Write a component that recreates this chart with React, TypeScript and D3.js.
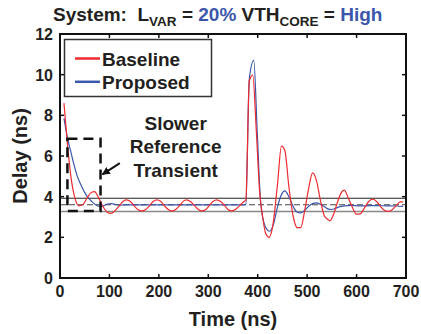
import React, { useEffect, useRef } from 'react';
import * as d3 from 'd3';

// time (ns), delay (ns)
const baselineT = [8, 15, 22, 30, 38, 46, 55, 64, 70, 77, 86, 95, 103, 111, 120, 128, 135, 143, 150, 158, 165, 173, 181, 189, 196, 204, 211, 219, 226, 234, 242, 249, 256, 264, 272, 280, 287, 295, 302, 310, 317, 325, 333, 340, 347, 355, 363, 370, 376, 383, 390, 397, 404, 410, 416, 423, 430, 440, 448, 455, 463, 472, 480, 487, 495, 503, 511, 519, 527, 535, 541, 546, 553, 561, 568, 575, 583, 591, 600, 607, 616, 624, 633, 641, 649, 657, 664, 672, 680, 688, 694];
const baselineV = [8.6, 6.6, 5.0, 3.95, 3.55, 3.6, 3.95, 4.22, 4.25, 4.0, 3.55, 3.25, 3.18, 3.3, 3.55, 3.78, 3.84, 3.75, 3.55, 3.36, 3.3, 3.36, 3.55, 3.77, 3.84, 3.76, 3.56, 3.37, 3.3, 3.37, 3.56, 3.77, 3.84, 3.76, 3.56, 3.37, 3.3, 3.37, 3.56, 3.77, 3.84, 3.76, 3.56, 3.37, 3.3, 3.37, 3.55, 3.72, 3.85, 9.7, 9.98, 7.3, 4.2, 3.0, 2.2, 2.0, 2.5, 4.6, 6.49, 6.26, 4.5, 3.0, 2.48, 2.48, 3.3, 4.4, 5.17, 4.78, 3.8, 3.05, 2.9, 2.81, 3.1, 3.7, 4.15, 4.32, 3.95, 3.5, 3.14, 3.15, 3.45, 3.75, 3.88, 3.75, 3.5, 3.32, 3.28, 3.36, 3.55, 3.74, 3.74];

const proposedT = [8, 15, 22, 28, 35, 42, 50, 57, 64, 72, 80, 88, 96, 104, 112, 120, 135, 160, 200, 250, 300, 350, 372, 376, 383, 392, 399, 406, 415, 424, 432, 440, 448, 455, 463, 471, 479, 486, 494, 502, 511, 519, 527, 535, 542, 549, 557, 565, 575, 590, 605, 620, 640, 660, 680, 694];
const proposedV = [7.85, 6.9, 6.2, 5.6, 5.0, 4.6, 4.2, 3.95, 3.77, 3.6, 3.52, 3.55, 3.64, 3.66, 3.62, 3.58, 3.6, 3.6, 3.6, 3.6, 3.6, 3.6, 3.6, 3.62, 9.8, 10.7, 7.2, 3.7, 2.55, 2.3, 2.65, 3.5, 4.1, 4.28, 4.0, 3.55, 3.25, 3.2, 3.3, 3.5, 3.66, 3.69, 3.62, 3.5, 3.4, 3.37, 3.42, 3.5, 3.55, 3.57, 3.55, 3.55, 3.56, 3.55, 3.54, 3.52];

const refLevels = [3.92, 3.6, 3.27];
const xTicks = [0, 100, 200, 300, 400, 500, 600, 700];
const yTicks = [0, 2, 4, 6, 8, 10, 12];
const seriesNames = ['Baseline', 'Proposed'];
const noteLines = ['Slower', 'Reference', 'Transient'];
const boxT = [15, 82];
const boxV = [3.3, 6.85];

const RED = '#ee2b2f';
const BLUE = '#3b57ab';
const FONT = 'Liberation Sans, Arial, sans-serif';

export default function App() {
  const ref = useRef<SVGSVGElement>(null);

  useEffect(() => {
    const svg = d3.select(ref.current);
    svg.selectAll('*').remove();

    const m = { left: 60, right: 406, top: 34, bottom: 278 };
    const x = d3.scaleLinear().domain([0, 700]).range([m.left, m.right]);
    const y = d3.scaleLinear().domain([0, 12]).range([m.bottom, m.top]);

    const defs = svg.append('defs');
    defs.append('clipPath').attr('id', 'clip')
      .append('rect').attr('x', m.left).attr('y', m.top)
      .attr('width', m.right - m.left).attr('height', m.bottom - m.top);
    defs.append('marker').attr('id', 'arr').attr('viewBox', '0 0 10 10')
      .attr('refX', 9).attr('refY', 5).attr('markerWidth', 4).attr('markerHeight', 4)
      .attr('orient', 'auto')
      .append('path').attr('d', 'M0,0L10,5L0,10z').attr('fill', '#111');

    // reference levels
    const lvlStyle = [
      { c: '#222', w: 1.1, d: null },
      { c: '#444', w: 1.1, d: '6,3' },
      { c: '#888', w: 1.6, d: null },
    ];
    refLevels.forEach((v, i) => {
      svg.append('line')
        .attr('x1', m.left).attr('x2', m.right)
        .attr('y1', y(v)).attr('y2', y(v))
        .attr('stroke', lvlStyle[i].c).attr('stroke-width', lvlStyle[i].w)
        .attr('stroke-dasharray', lvlStyle[i].d);
    });

    const line = d3.line<[number, number]>()
      .x(d => x(d[0])).y(d => y(d[1]))
      .curve(d3.curveMonotoneX);

    const plot = svg.append('g').attr('clip-path', 'url(#clip)');
    plot.append('path')
      .datum(proposedT.map((t, i) => [t, proposedV[i]] as [number, number]))
      .attr('fill', 'none').attr('stroke', BLUE).attr('stroke-width', 1.2)
      .attr('d', line);
    plot.append('path')
      .datum(baselineT.map((t, i) => [t, baselineV[i]] as [number, number]))
      .attr('fill', 'none').attr('stroke', RED).attr('stroke-width', 1.2)
      .attr('d', line);

    // dashed box around the slow transient
    svg.append('rect')
      .attr('x', x(boxT[0])).attr('y', y(boxV[1]))
      .attr('width', x(boxT[1]) - x(boxT[0]))
      .attr('height', y(boxV[0]) - y(boxV[1]))
      .attr('fill', 'none').attr('stroke', '#111').attr('stroke-width', 2.5)
      .attr('stroke-dasharray', '10,6');

    // annotation
    const note = svg.append('text')
      .attr('font-family', FONT).attr('font-weight', 'bold').attr('font-size', 19)
      .attr('fill', '#231f20').attr('text-anchor', 'middle');
    noteLines.forEach((s, i) => {
      note.append('tspan').attr('x', x(234)).attr('y', y(7.28) + i * 23.3).text(s);
    });
    svg.append('line')
      .attr('x1', x(121)).attr('y1', y(5.65))
      .attr('x2', x(86)).attr('y2', y(5.1))
      .attr('stroke', '#111').attr('stroke-width', 2)
      .attr('marker-end', 'url(#arr)');

    // frame
    svg.append('rect')
      .attr('x', m.left).attr('y', m.top)
      .attr('width', m.right - m.left).attr('height', m.bottom - m.top)
      .attr('fill', 'none').attr('stroke', '#111').attr('stroke-width', 2);

    // ticks (inward, all four sides)
    const tk = 4;
    xTicks.slice(1, -1).forEach(t => {
      svg.append('line').attr('x1', x(t)).attr('x2', x(t))
        .attr('y1', m.bottom).attr('y2', m.bottom - tk).attr('stroke', '#111').attr('stroke-width', 1.5);
      svg.append('line').attr('x1', x(t)).attr('x2', x(t))
        .attr('y1', m.top).attr('y2', m.top + tk).attr('stroke', '#111').attr('stroke-width', 1.5);
    });
    yTicks.slice(1, -1).forEach(v => {
      svg.append('line').attr('x1', m.left).attr('x2', m.left + tk)
        .attr('y1', y(v)).attr('y2', y(v)).attr('stroke', '#111').attr('stroke-width', 1.5);
      svg.append('line').attr('x1', m.right).attr('x2', m.right - tk)
        .attr('y1', y(v)).attr('y2', y(v)).attr('stroke', '#111').attr('stroke-width', 1.5);
    });

    const lab = svg.append('g').attr('font-family', FONT).attr('font-weight', 'bold')
      .attr('font-size', 16).attr('fill', '#231f20');
    xTicks.forEach(t => {
      lab.append('text').attr('x', x(t)).attr('y', 297).attr('text-anchor', 'middle').text(t);
    });
    yTicks.forEach(v => {
      lab.append('text').attr('x', 53).attr('y', y(v) + 6).attr('text-anchor', 'end').text(v);
    });

    svg.append('text').attr('x', 233).attr('y', 326)
      .attr('font-family', FONT).attr('font-weight', 'bold').attr('font-size', 20)
      .attr('text-anchor', 'middle').attr('fill', '#231f20').text('Time (ns)');
    svg.append('text')
      .attr('transform', `translate(27,${(m.top + m.bottom) / 2}) rotate(-90)`)
      .attr('font-family', FONT).attr('font-weight', 'bold').attr('font-size', 20)
      .attr('text-anchor', 'middle').attr('fill', '#231f20').text('Delay (ns)');

    // title
    const title = svg.append('text').attr('x', 53).attr('y', 21)
      .attr('font-family', FONT).attr('font-weight', 'bold').attr('font-size', 19)
      .attr('fill', '#231f20').style('white-space', 'pre');
    title.append('tspan').text('System:  L');
    title.append('tspan').attr('font-size', 13.5).attr('dy', 5).text('VAR');
    title.append('tspan').attr('dy', -5).text(' = ');
    title.append('tspan').attr('fill', BLUE).text('20%');
    title.append('tspan').text(' VTH');
    title.append('tspan').attr('font-size', 13.5).attr('dy', 5).text('CORE');
    title.append('tspan').attr('dy', -5).text(' = ');
    title.append('tspan').attr('fill', BLUE).text('High');

    // legend
    const lg = svg.append('g');
    lg.append('rect').attr('x', 64.5).attr('y', 39.5).attr('width', 147).attr('height', 57)
      .attr('fill', '#fff').attr('stroke', '#333').attr('stroke-width', 1.5);
    [RED, BLUE].forEach((c, i) => {
      const yy = 58.5 + i * 23.3;
      lg.append('line').attr('x1', 75).attr('x2', 100).attr('y1', yy).attr('y2', yy)
        .attr('stroke', c).attr('stroke-width', 2.5);
      lg.append('text').attr('x', 102).attr('y', yy + 7)
        .attr('font-family', FONT).attr('font-weight', 'bold').attr('font-size', 19)
        .attr('fill', '#231f20').text(seriesNames[i]);
    });
  }, []);

  return (
    <div style={{ position: 'absolute', left: 0, top: 0 }}>
      <svg ref={ref} width={421} height={334} style={{ display: 'block', background: '#fff' }} />
    </div>
  );
}
